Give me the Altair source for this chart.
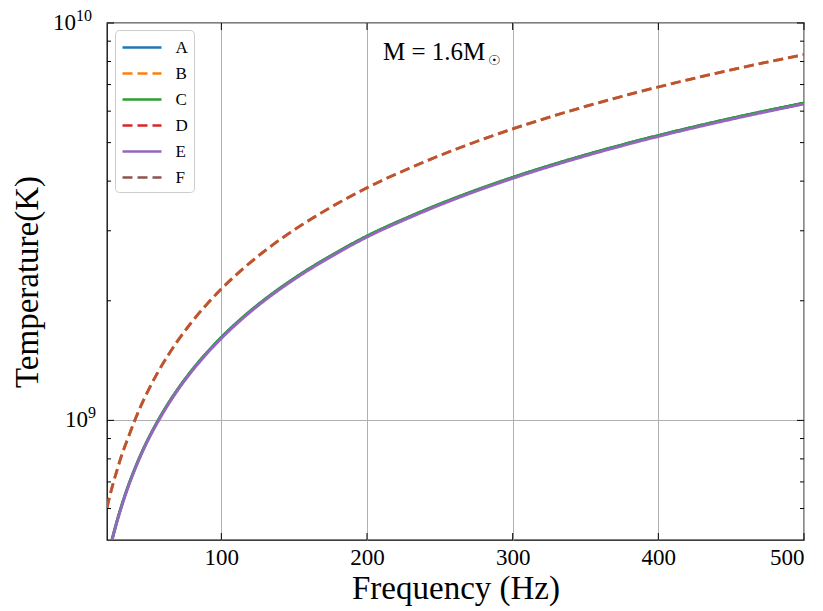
import altair as alt
import pandas as pd

# ---------------- data ----------------
series_names = ["A", "B", "C", "D", "E", "F"]
series_colors = ["#1f77b4", "#ff7f0e", "#2ca02c", "#d62728", "#9467bd", "#8c564b"]
series_dashes = [[1, 0], [10, 5], [1, 0], [10, 5], [1, 0], [10, 5]]
series_opacity = [1.0, 1.0, 1.0, 0.5, 1.0, 0.5]

freq_solid = [24.7, 28, 32, 36, 40, 45, 50, 56, 63, 70, 80, 90, 100, 115, 130, 150,
              175, 200, 230, 260, 300, 350, 400, 450, 500]
temp_A = [4.97e8, 5.52e8, 6.18e8, 6.83e8, 7.46e8, 8.25e8, 9.01e8, 9.91e8, 1.095e9,
          1.197e9, 1.340e9, 1.480e9, 1.618e9, 1.820e9, 2.018e9, 2.277e9, 2.594e9,
          2.910e9, 3.266e9, 3.622e9, 4.088e9, 4.656e9, 5.212e9, 5.756e9, 6.291e9]
temp_C = [4.97e8, 5.52e8, 6.18e8, 6.83e8, 7.46e8, 8.25e8, 9.01e8, 9.91e8, 1.095e9,
          1.197e9, 1.340e9, 1.480e9, 1.618e9, 1.820e9, 2.018e9, 2.277e9, 2.594e9,
          2.910e9, 3.266e9, 3.622e9, 4.088e9, 4.656e9, 5.212e9, 5.756e9, 6.291e9]
temp_E = [4.94e8, 5.49e8, 6.14e8, 6.79e8, 7.42e8, 8.20e8, 8.96e8, 9.85e8, 1.088e9,
          1.190e9, 1.332e9, 1.471e9, 1.608e9, 1.809e9, 2.006e9, 2.263e9, 2.578e9,
          2.892e9, 3.246e9, 3.600e9, 4.063e9, 4.628e9, 5.181e9, 5.721e9, 6.253e9]

freq_dashed = [21.5, 25, 28, 32, 36, 40, 45, 50, 56, 63, 70, 80, 90, 100, 115, 130,
               150, 175, 200, 230, 260, 300, 350, 400, 450, 500]
temp_B = [6.03e8, 6.79e8, 7.41e8, 8.26e8, 9.04e8, 9.88e8, 1.092e9, 1.193e9, 1.313e9,
          1.450e9, 1.585e9, 1.774e9, 1.959e9, 2.142e9, 2.410e9, 2.673e9, 3.016e9,
          3.435e9, 3.850e9, 4.325e9, 4.797e9, 5.413e9, 6.166e9, 6.902e9, 7.623e9, 8.330e9]
temp_D = [6.03e8, 6.79e8, 7.41e8, 8.26e8, 9.04e8, 9.88e8, 1.092e9, 1.193e9, 1.313e9,
          1.450e9, 1.585e9, 1.774e9, 1.959e9, 2.142e9, 2.410e9, 2.673e9, 3.016e9,
          3.435e9, 3.850e9, 4.325e9, 4.797e9, 5.413e9, 6.166e9, 6.902e9, 7.623e9, 8.330e9]
temp_F = [6.03e8, 6.79e8, 7.41e8, 8.26e8, 9.04e8, 9.88e8, 1.092e9, 1.193e9, 1.313e9,
          1.450e9, 1.585e9, 1.774e9, 1.959e9, 2.142e9, 2.410e9, 2.673e9, 3.016e9,
          3.435e9, 3.850e9, 4.325e9, 4.797e9, 5.413e9, 6.166e9, 6.902e9, 7.623e9, 8.330e9]

x_ticks = [100, 200, 300, 400, 500]
y_major = [1e9, 1e10]
y_major_exp = ["9", "10"]
y_minor = [6e8, 7e8, 8e8, 9e8, 2e9, 3e9, 4e9, 5e9, 6e9, 7e9, 8e9, 9e9]

ann_text = ["M = 1.6M", "☉"]
ann_x = [211, 283]
ann_y = [8.45e9, 8.02e9]

# ---------------- build tables ----------------
rows = []
for k, (name, fr, tv) in enumerate([("A", freq_solid, temp_A), ("B", freq_dashed, temp_B),
                                    ("C", freq_solid, temp_C), ("D", freq_dashed, temp_D),
                                    ("E", freq_solid, temp_E), ("F", freq_dashed, temp_F)]):
    for i, (f, t) in enumerate(zip(fr, tv)):
        rows.append({"freq": f, "temp": t, "series": name, "idx": i,
                     "op": series_opacity[k]})
df = pd.DataFrame(rows)

W, H = 697, 517
FONT = "Liberation Serif"

xscale = alt.Scale(domain=[21.5, 500], nice=False, zero=False)
yscale = alt.Scale(type="log", domain=[5e8, 1e10], nice=False)

leg = dict(title=None, orient="none", legendX=8, legendY=7,
           symbolType="M-1.95,0L1.95,0", symbolStrokeWidth=2.5, symbolSize=400,
           symbolOffset=9.5,
           labelFont=FONT, labelFontSize=17, labelColor="black", labelOffset=22,
           rowPadding=6, fillColor="white", strokeColor="#cccccc",
           cornerRadius=4, padding=6)

lines = alt.Chart(df).mark_line(strokeWidth=2.8, clip=True, interpolate="monotone").encode(
    x=alt.X("freq:Q", scale=xscale,
            axis=alt.Axis(values=x_ticks, grid=True, gridColor="#b0b0b0", gridWidth=1,
                          ticks=False, domain=False, labelFont=FONT, labelFontSize=23,
                          labelColor="black", labelPadding=6, title="Frequency (Hz)",
                          titleFont=FONT, titleFontSize=33, titleFontWeight="normal",
                          titleColor="black", titlePadding=3)),
    y=alt.Y("temp:Q", scale=yscale,
            axis=alt.Axis(values=y_major, grid=True, gridColor="#b0b0b0", gridWidth=1,
                          ticks=False, domain=False, labels=False,
                          title="Temperature(K)", titleFont=FONT, titleFontSize=33,
                          titleFontWeight="normal", titleColor="black", titlePadding=63)),
    color=alt.Color("series:N", scale=alt.Scale(domain=series_names, range=series_colors),
                    legend=alt.Legend(**leg)),
    strokeDash=alt.StrokeDash("series:N", scale=alt.Scale(domain=series_names, range=series_dashes),
                              legend=alt.Legend(**leg)),
    opacity=alt.Opacity("op:Q", scale=None, legend=None),
    order="idx:Q",
)

ymaj_df = pd.DataFrame({"v": y_major, "e": y_major_exp})
ymin_df = pd.DataFrame({"v": y_minor})
xt_df = pd.DataFrame({"v": x_ticks})

def yrule(d, x0, x1):
    return alt.Chart(d).mark_rule(color="black", strokeWidth=1).encode(
        y=alt.Y("v:Q", scale=yscale), x=alt.value(x0), x2=alt.value(x1))

def xrule(d, y0, y1):
    return alt.Chart(d).mark_rule(color="black", strokeWidth=1).encode(
        x=alt.X("v:Q", scale=xscale), y=alt.value(y0), y2=alt.value(y1))

ticks = [
    yrule(ymaj_df, 0, 7), yrule(ymaj_df, W - 7, W),
    yrule(ymin_df, 0, 4), yrule(ymin_df, W - 4, W),
    xrule(xt_df, H - 7, H), xrule(xt_df, 0, 7),
]

# y tick labels as 10 with superscript exponent
lab9 = ymaj_df.iloc[[0]]
lab10 = ymaj_df.iloc[[1]]
def base_label(d, xpos):
    return alt.Chart(d).mark_text(font=FONT, fontSize=23, align="right", baseline="middle",
                                  color="black").encode(
        y=alt.Y("v:Q", scale=yscale), x=alt.value(xpos), text=alt.value("10"))
def exp_label(d, xpos):
    return alt.Chart(d).mark_text(font=FONT, fontSize=16, align="left", baseline="middle",
                                  color="black", dy=-7).encode(
        y=alt.Y("v:Q", scale=yscale), x=alt.value(xpos), text="e:N")
ylabels = [base_label(lab9, -19), exp_label(lab9, -19),
           base_label(lab10, -31), exp_label(lab10, -31)]

ann_df = pd.DataFrame({"x": ann_x, "y": ann_y, "t": ann_text})
ann_main = alt.Chart(ann_df.iloc[[0]]).mark_text(font=FONT, fontSize=25, align="left",
                                                 baseline="middle", color="black").encode(
    x=alt.X("x:Q", scale=xscale), y=alt.Y("y:Q", scale=yscale), text="t:N")
ann_sun = alt.Chart(ann_df.iloc[[1]]).mark_text(font="DejaVu Sans", fontSize=14, align="left",
                                                baseline="middle", color="black").encode(
    x=alt.X("x:Q", scale=xscale), y=alt.Y("y:Q", scale=yscale), text="t:N")

chart = alt.layer(lines, *ticks, *ylabels, ann_main, ann_sun).properties(
    width=W, height=H,
    autosize=alt.AutoSizeParams(type="none"),
    padding={"left": 99, "top": 15, "right": 11, "bottom": 70},
).configure_view(stroke="black", strokeWidth=1.3)

chart.save("out.html", embed_options={"renderer": "svg", "actions": False})
